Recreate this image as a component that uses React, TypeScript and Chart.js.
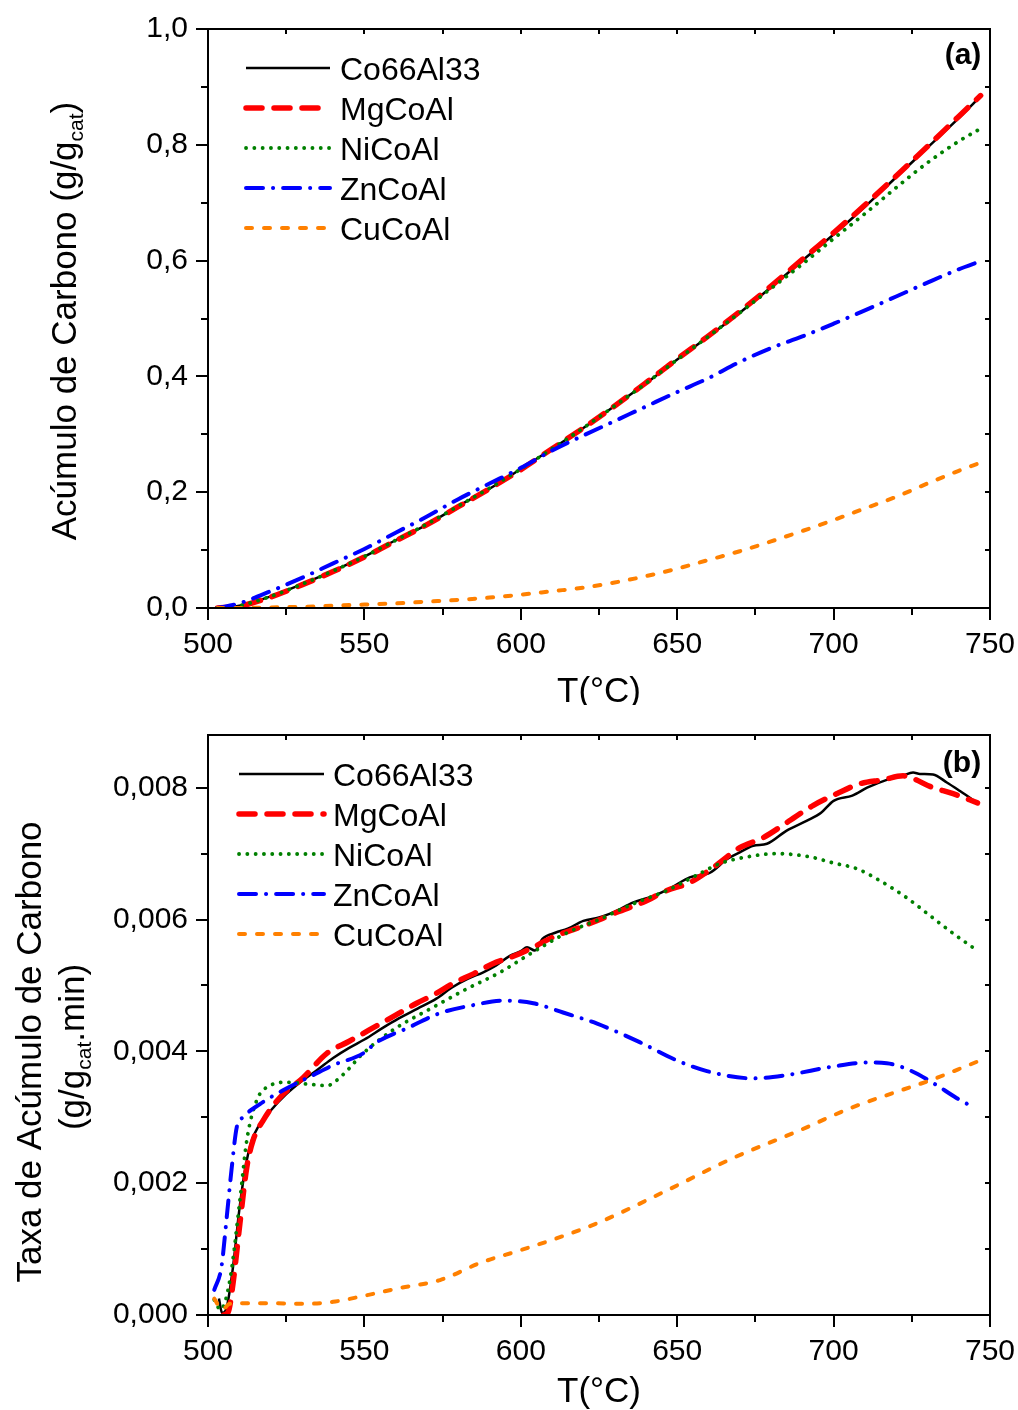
import React, { useEffect, useRef } from "react";
import { Chart, registerables } from "chart.js";

Chart.register(...registerables);

const FONT = "'Liberation Sans', Arial, Helvetica, sans-serif";

// ---------- axes ----------
const xMajorTicks = [500, 550, 600, 650, 700, 750];
const xMinorTicks = [525, 575, 625, 675, 725];
const yMajorTicksA = [0, 0.2, 0.4, 0.6, 0.8, 1.0];
const yMinorTicksA = [0.1, 0.3, 0.5, 0.7, 0.9];
const yMajorTicksB = [0, 0.002, 0.004, 0.006, 0.008];
const yMinorTicksB = [0.001, 0.003, 0.005, 0.007];

const seriesNames = ["Co66Al33", "MgCoAl", "NiCoAl", "ZnCoAl", "CuCoAl"];

// ---------- panel (a): carbon accumulation ----------
const tempA = [503, 510, 520, 530, 540, 550, 560, 570, 580, 590, 600, 610, 620, 630, 640, 650, 660, 670, 680, 690, 700, 710, 720, 730, 740, 747];
const accCo66Al33 = [0, 0.004, 0.020, 0.041, 0.064, 0.089, 0.117, 0.144, 0.176, 0.206, 0.240, 0.275, 0.311, 0.349, 0.388, 0.429, 0.469, 0.510, 0.554, 0.600, 0.645, 0.693, 0.744, 0.795, 0.846, 0.884];
const accMgCoAl = [0, 0.003, 0.019, 0.040, 0.063, 0.088, 0.116, 0.144, 0.175, 0.206, 0.239, 0.275, 0.311, 0.349, 0.389, 0.430, 0.470, 0.512, 0.556, 0.602, 0.648, 0.696, 0.746, 0.797, 0.849, 0.885];
const accNiCoAl = [0, 0.004, 0.020, 0.041, 0.064, 0.089, 0.117, 0.145, 0.176, 0.207, 0.240, 0.275, 0.311, 0.349, 0.388, 0.429, 0.469, 0.510, 0.552, 0.594, 0.638, 0.681, 0.726, 0.769, 0.806, 0.828];
const accZnCoAl = [0, 0.008, 0.029, 0.052, 0.077, 0.102, 0.130, 0.158, 0.188, 0.215, 0.242, 0.272, 0.298, 0.323, 0.348, 0.373, 0.397, 0.425, 0.449, 0.469, 0.491, 0.514, 0.538, 0.562, 0.585, 0.599];
const accCuCoAl = [0, 0.0, 0.001, 0.002, 0.004, 0.006, 0.008, 0.011, 0.014, 0.018, 0.023, 0.029, 0.035, 0.044, 0.055, 0.068, 0.083, 0.098, 0.115, 0.133, 0.152, 0.172, 0.192, 0.215, 0.237, 0.251];

// ---------- panel (b): carbon accumulation rate ----------
const tempB_Co66Al33 = [503.5, 504.5, 506, 508, 510, 512, 514, 516, 520, 525, 530, 535, 540, 545, 550, 556, 561, 567, 573, 578, 583, 588, 592, 596.5, 600, 602, 604.5, 607, 611, 615, 620, 625, 630, 636, 642, 648, 654, 660.5, 666, 670, 674.3, 678.7, 685, 691.5, 696, 700, 706, 710.7, 717, 722, 725.4, 727.6, 731.8, 736.2, 740.4, 746];
const rateCo66Al33 = [0.00025, 0.00003, 0.00012, 0.00073, 0.00159, 0.00225, 0.00265, 0.00285, 0.0031, 0.00335, 0.00355, 0.00372, 0.0039, 0.00405, 0.00418, 0.00436, 0.0045, 0.00465, 0.0048, 0.00497, 0.0051, 0.0052, 0.0053, 0.00545, 0.00552, 0.00558, 0.00553, 0.00571, 0.0058, 0.00586, 0.00598, 0.00603, 0.00612, 0.00626, 0.00635, 0.00648, 0.00664, 0.00671, 0.00692, 0.00702, 0.00712, 0.00715, 0.00735, 0.0075, 0.00762, 0.0078, 0.00788, 0.008, 0.00812, 0.00818, 0.00823, 0.00821, 0.0082, 0.00808, 0.00795, 0.00777];

const tempB_MgCoAl = [505, 506.5, 508, 510.2, 512.4, 514.4, 517.6, 523, 530.4, 538, 545, 554, 560, 566.7, 573, 578.3, 585, 591, 598, 604, 611, 617, 625.3, 630.7, 639, 646.7, 654, 661.5, 670, 677.4, 685, 693.4, 701, 708.4, 715.8, 722.2, 725.4, 730.8, 738.2, 746];
const rateMgCoAl = [0.0, 0.00005, 0.00048, 0.00139, 0.00224, 0.00265, 0.00295, 0.0033, 0.0036, 0.00397, 0.00415, 0.00439, 0.00455, 0.00473, 0.00488, 0.00503, 0.00518, 0.00533, 0.00545, 0.00558, 0.00575, 0.00585, 0.006, 0.00611, 0.00626, 0.00644, 0.00656, 0.00679, 0.00709, 0.00724, 0.00747, 0.00773, 0.00791, 0.00806, 0.00812, 0.00818, 0.00814, 0.00802, 0.00791, 0.00777];

const tempB_NiCoAl = [502, 504, 507, 510.2, 512.4, 515.6, 519.8, 525, 532.6, 538, 543, 549.6, 559, 572, 582.8, 593.4, 603, 614.8, 625, 636, 646.7, 657.3, 663.7, 672.3, 681.9, 692.5, 699.8, 707.5, 714.8, 723.4, 730.8, 738.2, 746.2];
const rateNiCoAl = [0.00023, 0.00008, 0.00053, 0.00174, 0.00265, 0.00326, 0.00348, 0.00353, 0.0035, 0.00348, 0.00364, 0.00397, 0.00432, 0.00467, 0.00495, 0.0052, 0.00548, 0.0058, 0.006, 0.00624, 0.00644, 0.0067, 0.00685, 0.00695, 0.007, 0.00695, 0.00686, 0.00677, 0.00659, 0.00633, 0.00606, 0.00579, 0.00552];

const tempB_ZnCoAl = [502, 504.3, 506, 507.6, 509.2, 511.2, 516.6, 524, 533.6, 540, 549.6, 554, 563.6, 574.2, 584.7, 594.3, 604, 613.5, 624.4, 638, 650, 659.5, 674.3, 685, 699.8, 710.7, 717, 724.5, 731.8, 739.4, 745.2];
const rateZnCoAl = [0.00038, 0.00073, 0.00149, 0.00224, 0.00285, 0.003, 0.0032, 0.00341, 0.00364, 0.00379, 0.00397, 0.00414, 0.00435, 0.00458, 0.0047, 0.00477, 0.00473, 0.00459, 0.00442, 0.00414, 0.00386, 0.0037, 0.00359, 0.00364, 0.00377, 0.00383, 0.00382, 0.00371, 0.00352, 0.00329, 0.00314];

const tempB_CuCoAl = [502, 504.5, 507, 518.8, 531.5, 540, 550.8, 561.4, 574.2, 587, 599.7, 612.5, 625.3, 646.7, 667.8, 688.6, 706, 721, 732, 742.6, 747.8];
const rateCuCoAl = [0.00025, 0.00008, 0.00017, 0.00018, 0.00017, 0.0002, 0.0003, 0.00041, 0.00053, 0.00079, 0.00098, 0.00118, 0.00141, 0.00189, 0.00238, 0.00279, 0.00315, 0.0034, 0.00358, 0.00378, 0.00388];

// ---------- styles ----------
const STYLES = [
  { color: "#000000", width: 2.5, dash: [] as number[], cap: "butt" },
  { color: "#ff0000", width: 5.5, dash: [16, 12], cap: "round" },
  { color: "#008000", width: 3.8, dash: [0.1, 8.2], cap: "round" },
  { color: "#0000ff", width: 4, dash: [17, 10, 0.1, 10], cap: "round" },
  { color: "#ff8000", width: 4, dash: [6, 12], cap: "round" },
];

type Part = { t: string; sub?: boolean };

function drawRich(ctx: CanvasRenderingContext2D, parts: Part[], cx: number, cy: number, size: number, rotated: boolean) {
  ctx.save();
  ctx.translate(cx, cy);
  if (rotated) ctx.rotate(-Math.PI / 2);
  const subSize = size * 0.6;
  const widths = parts.map((p) => {
    ctx.font = `${p.sub ? subSize : size}px ${FONT}`;
    return ctx.measureText(p.t).width;
  });
  const total = widths.reduce((a, b) => a + b, 0);
  let x = -total / 2;
  const base = size * 0.35;
  ctx.fillStyle = "#000";
  ctx.textBaseline = "alphabetic";
  ctx.textAlign = "left";
  parts.forEach((p, i) => {
    ctx.font = `${p.sub ? subSize : size}px ${FONT}`;
    ctx.fillText(p.t, x, p.sub ? base + size * 0.2 : base);
    x += widths[i];
  });
  ctx.restore();
}

function makeDatasets(temps: number[][], values: number[][]) {
  return temps.map((ts, i) => ({
    label: seriesNames[i],
    data: ts.map((t, j) => ({ x: t, y: values[i][j] })),
    borderColor: STYLES[i].color,
    backgroundColor: STYLES[i].color,
    borderWidth: STYLES[i].width,
    borderDash: STYLES[i].dash,
    borderCapStyle: STYLES[i].cap,
    borderJoinStyle: "round",
    cubicInterpolationMode: "monotone",
    pointRadius: 0,
    fill: false,
    order: 5 - i,
  }));
}

type Spec = {
  top: number;
  xAxisHeight: number;
  yMax: number;
  yMajor: number[];
  yMinor: number[];
  decimals: number;
  yTitles: { parts: Part[]; cx: number; cy: number }[];
  xTitleY: number;
  legend: { x0: number; x1: number; tx: number; y0: number };
  label: { text: string; x: number; y: number };
};

function buildConfig(datasets: any[], spec: Spec): any {
  const decor = {
    id: "decor",
    afterDraw(chart: any) {
      const { ctx, chartArea: ca, scales } = chart;
      const xs = scales.x;
      const ys = scales.y;
      ctx.save();
      ctx.strokeStyle = "#000";
      ctx.lineWidth = 2;
      ctx.setLineDash([]);
      ctx.lineCap = "butt";
      ctx.strokeRect(ca.left, ca.top, ca.right - ca.left, ca.bottom - ca.top);
      const seg = (x1: number, y1: number, x2: number, y2: number) => {
        ctx.beginPath();
        ctx.moveTo(x1, y1);
        ctx.lineTo(x2, y2);
        ctx.stroke();
      };
      xMajorTicks.forEach((v) => {
        const x = Math.round(xs.getPixelForValue(v));
        seg(x, ca.bottom, x, ca.bottom + 12);
        seg(x, ca.top, x, ca.top + 5);
      });
      xMinorTicks.forEach((v) => {
        const x = Math.round(xs.getPixelForValue(v));
        seg(x, ca.bottom, x, ca.bottom + 7);
        seg(x, ca.top, x, ca.top + 5);
      });
      spec.yMajor.forEach((v) => {
        const y = Math.round(ys.getPixelForValue(v));
        seg(ca.left - 12, y, ca.left, y);
        seg(ca.right - 5, y, ca.right, y);
      });
      spec.yMinor.forEach((v) => {
        const y = Math.round(ys.getPixelForValue(v));
        seg(ca.left - 7, y, ca.left, y);
        seg(ca.right - 5, y, ca.right, y);
      });

      // axis titles
      drawRich(ctx, [{ t: "T(°C)" }], (ca.left + ca.right) / 2, spec.xTitleY, 35, false);
      spec.yTitles.forEach((yt) => drawRich(ctx, yt.parts, yt.cx, yt.cy, 35, true));

      // legend
      const lg = spec.legend;
      chart.data.datasets.forEach((ds: any, i: number) => {
        const y = lg.y0 + i * 40;
        ctx.save();
        ctx.strokeStyle = ds.borderColor;
        ctx.lineWidth = ds.borderWidth;
        ctx.setLineDash(ds.borderDash || []);
        ctx.lineCap = ds.borderCapStyle;
        ctx.beginPath();
        ctx.moveTo(lg.x0, y);
        ctx.lineTo(lg.x1, y);
        ctx.stroke();
        ctx.restore();
        ctx.fillStyle = "#000";
        ctx.font = `32px ${FONT}`;
        ctx.textAlign = "left";
        ctx.textBaseline = "alphabetic";
        ctx.fillText(ds.label, lg.tx, y + 11.5);
      });

      // panel label
      ctx.fillStyle = "#000";
      ctx.font = `bold 30px ${FONT}`;
      ctx.textAlign = "center";
      ctx.textBaseline = "alphabetic";
      ctx.fillText(spec.label.text, spec.label.x, spec.label.y);
      ctx.restore();
    },
  };

  return {
    type: "line",
    data: { datasets },
    options: {
      animation: false,
      responsive: false,
      maintainAspectRatio: false,
      layout: { padding: { top: spec.top, right: 28, left: 0, bottom: 0 } },
      plugins: { legend: { display: false }, tooltip: { enabled: false }, title: { display: false } },
      elements: { point: { radius: 0 } },
      scales: {
        x: {
          type: "linear",
          position: "bottom",
          min: 500,
          max: 750,
          afterBuildTicks: (s: any) => {
            s.ticks = xMajorTicks.map((v) => ({ value: v }));
          },
          afterFit: (s: any) => {
            s.height = spec.xAxisHeight;
            s.paddingLeft = 0;
            s.paddingRight = 0;
            s.paddingTop = 0;
            s.paddingBottom = 0;
          },
          grid: { display: false, drawTicks: false, tickLength: 0 },
          border: { display: false },
          ticks: {
            color: "#000",
            font: { family: FONT, size: 30 },
            padding: 19,
            maxRotation: 0,
            autoSkip: false,
            callback: (v: number) => String(v),
          },
        },
        y: {
          type: "linear",
          position: "left",
          min: 0,
          max: spec.yMax,
          afterBuildTicks: (s: any) => {
            s.ticks = spec.yMajor.map((v) => ({ value: v }));
          },
          afterFit: (s: any) => {
            s.width = 208;
            s.paddingLeft = 0;
            s.paddingRight = 0;
            s.paddingTop = 0;
            s.paddingBottom = 0;
          },
          grid: { display: false, drawTicks: false, tickLength: 0 },
          border: { display: false },
          ticks: {
            color: "#000",
            font: { family: FONT, size: 30 },
            padding: 20,
            autoSkip: false,
            callback: (v: number) => Number(v).toFixed(spec.decimals).replace(".", ","),
          },
        },
      },
    },
    plugins: [decor],
  };
}

export default function App() {
  const refA = useRef<HTMLCanvasElement>(null);
  const refB = useRef<HTMLCanvasElement>(null);

  useEffect(() => {
    const dsA = makeDatasets(
      [tempA, tempA, tempA, tempA, tempA],
      [accCo66Al33, accMgCoAl, accNiCoAl, accZnCoAl, accCuCoAl]
    );
    const dsB = makeDatasets(
      [tempB_Co66Al33, tempB_MgCoAl, tempB_NiCoAl, tempB_ZnCoAl, tempB_CuCoAl],
      [rateCo66Al33, rateMgCoAl, rateNiCoAl, rateZnCoAl, rateCuCoAl]
    );
    const chartA = new Chart(
      refA.current as HTMLCanvasElement,
      buildConfig(dsA, {
        top: 29,
        xAxisHeight: 97,
        yMax: 1.0,
        yMajor: yMajorTicksA,
        yMinor: yMinorTicksA,
        decimals: 1,
        yTitles: [{ parts: [{ t: "Acúmulo de Carbono (g/g" }, { t: "cat", sub: true }, { t: ")" }], cx: 64, cy: 321 }],
        xTitleY: 690,
        legend: { x0: 246, x1: 330, tx: 340, y0: 68 },
        label: { text: "(a)", x: 963, y: 64 },
      })
    );
    const chartB = new Chart(
      refB.current as HTMLCanvasElement,
      buildConfig(dsB, {
        top: 30,
        xAxisHeight: 95,
        yMax: 0.0088,
        yMajor: yMajorTicksB,
        yMinor: yMinorTicksB,
        decimals: 3,
        yTitles: [
          { parts: [{ t: "Taxa de Acúmulo de Carbono" }], cx: 29, cy: 347 },
          { parts: [{ t: "(g/g" }, { t: "cat", sub: true }, { t: ".min)" }], cx: 72, cy: 342 },
        ],
        xTitleY: 685,
        legend: { x0: 239, x1: 324, tx: 333, y0: 69 },
        label: { text: "(b)", x: 962, y: 67 },
      })
    );
    return () => {
      chartA.destroy();
      chartB.destroy();
    };
  }, []);

  return (
    <div style={{ position: "absolute", left: 0, top: 0, width: 1018, height: 1410, background: "#ffffff" }}>
      <canvas ref={refA} width={1018} height={705} style={{ display: "block", width: 1018, height: 705 }} />
      <canvas ref={refB} width={1018} height={705} style={{ display: "block", width: 1018, height: 705 }} />
    </div>
  );
}
